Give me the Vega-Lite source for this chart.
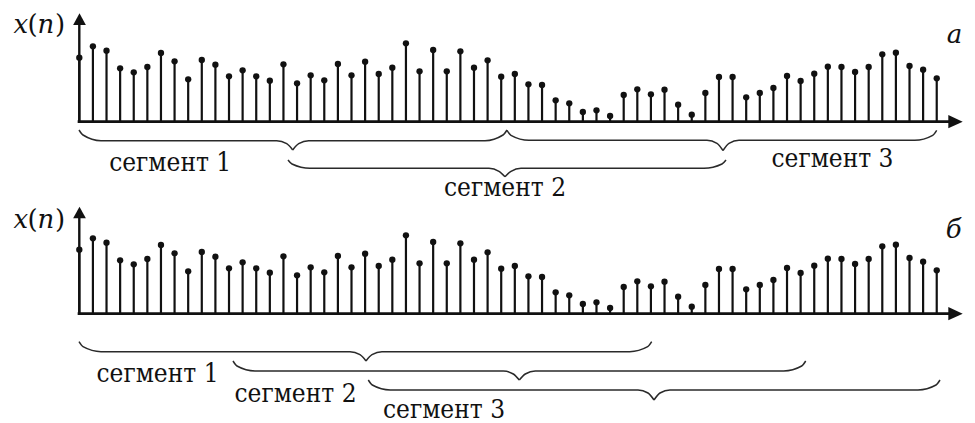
{
  "$schema": "https://vega.github.io/schema/vega-lite/v6.json",
  "padding": 0,
  "spacing": 0,
  "bounds": "flush",
  "background": "white",
  "config": {"view": {"stroke": null}, "font": "DejaVu Serif"},
  "datasets": {
    "signal": [
      {"n":0,"v":64},{"n":1,"v":75.4},{"n":2,"v":71},{"n":3,"v":53.4},{"n":4,"v":49.4},{"n":5,"v":54.7},{"n":6,"v":68.7},{"n":7,"v":60.4},
      {"n":8,"v":42.4},{"n":9,"v":61.7},{"n":10,"v":57},{"n":11,"v":45.4},{"n":12,"v":51.4},{"n":13,"v":45.4},{"n":14,"v":41},{"n":15,"v":57.4},
      {"n":16,"v":38.4},{"n":17,"v":46.4},{"n":18,"v":41.4},{"n":19,"v":57.7},{"n":20,"v":46.4},{"n":21,"v":60},{"n":22,"v":47.7},{"n":23,"v":54},
      {"n":24,"v":78.4},{"n":25,"v":50.4},{"n":26,"v":71.7},{"n":27,"v":50.4},{"n":28,"v":70.4},{"n":29,"v":54},{"n":30,"v":61.4},{"n":31,"v":45},
      {"n":32,"v":47.7},{"n":33,"v":37.4},{"n":34,"v":36.7},{"n":35,"v":21.4},{"n":36,"v":18.4},{"n":37,"v":9.7},{"n":38,"v":11.4},{"n":39,"v":5.7},
      {"n":40,"v":26.7},{"n":41,"v":32.4},{"n":42,"v":27.4},{"n":43,"v":32},{"n":44,"v":17},{"n":45,"v":7},{"n":46,"v":28.7},{"n":47,"v":44.7},
      {"n":48,"v":44.7},{"n":49,"v":24.4},{"n":50,"v":28.7},{"n":51,"v":33.7},{"n":52,"v":45.7},{"n":53,"v":40.7},{"n":54,"v":48},{"n":55,"v":55},
      {"n":56,"v":54.7},{"n":57,"v":49.7},{"n":58,"v":54.7},{"n":59,"v":67.4},{"n":60,"v":69},{"n":61,"v":55.7},{"n":62,"v":52},{"n":63,"v":43.4}
    ],
    "bracesA": [
      {"b":"1L","n":-0.022,"v":-8.3},{"b":"1L","n":0.272,"v":-13.3},{"b":"1L","n":1.594,"v":-19},{"b":"1L","n":14.504,"v":-19},{"b":"1L","n":15.239,"v":-22},{"b":"1L","n":15.68,"v":-28.3},
      {"b":"1R","n":15.68,"v":-28.3},{"b":"1R","n":16.121,"v":-22},{"b":"1R","n":16.855,"v":-19},{"b":"1R","n":29.809,"v":-19},{"b":"1R","n":31.132,"v":-13.3},{"b":"1R","n":31.426,"v":-8.3},
      {"b":"3L","n":31.426,"v":-8.6},{"b":"3L","n":31.719,"v":-13.6},{"b":"3L","n":33.042,"v":-18.6},{"b":"3L","n":46.12,"v":-18.6},{"b":"3L","n":46.855,"v":-21.6},{"b":"3L","n":47.296,"v":-28.8},
      {"b":"3R","n":47.296,"v":-28.8},{"b":"3R","n":47.737,"v":-21.6},{"b":"3R","n":48.472,"v":-18.6},{"b":"3R","n":61.381,"v":-18.6},{"b":"3R","n":62.704,"v":-13.6},{"b":"3R","n":62.998,"v":-8.6},
      {"b":"2L","n":15.334,"v":-38.3},{"b":"2L","n":15.628,"v":-42.3},{"b":"2L","n":16.951,"v":-46.6},{"b":"2L","n":30.103,"v":-46.6},{"b":"2L","n":30.838,"v":-49.6},{"b":"2L","n":31.278,"v":-55},
      {"b":"2R","n":31.278,"v":-55},{"b":"2R","n":31.719,"v":-49.6},{"b":"2R","n":32.454,"v":-46.6},{"b":"2R","n":45.9,"v":-46.6},{"b":"2R","n":47.223,"v":-42.3},{"b":"2R","n":47.517,"v":-38.3}
    ],
    "bracesB": [
      {"b":"1L","n":-0.022,"v":-28},{"b":"1L","n":0.272,"v":-33},{"b":"1L","n":1.594,"v":-38},{"b":"1L","n":19.89,"v":-38},{"b":"1L","n":20.624,"v":-41},{"b":"1L","n":21.065,"v":-47.3},
      {"b":"1R","n":21.065,"v":-47.3},{"b":"1R","n":21.506,"v":-41},{"b":"1R","n":22.241,"v":-38},{"b":"1R","n":40.441,"v":-38},{"b":"1R","n":41.764,"v":-33},{"b":"1R","n":42.057,"v":-28},
      {"b":"2L","n":11.293,"v":-47.3},{"b":"2L","n":11.587,"v":-52.3},{"b":"2L","n":12.91,"v":-57.3},{"b":"2L","n":31.153,"v":-57.3},{"b":"2L","n":31.888,"v":-60.3},{"b":"2L","n":32.329,"v":-66.3},
      {"b":"2R","n":32.329,"v":-66.3},{"b":"2R","n":32.77,"v":-60.3},{"b":"2R","n":33.505,"v":-57.3},{"b":"2R","n":51.756,"v":-57.3},{"b":"2R","n":53.079,"v":-52.3},{"b":"2R","n":53.373,"v":-47.3},
      {"b":"3L","n":21.234,"v":-66.3},{"b":"3L","n":21.528,"v":-71.3},{"b":"3L","n":22.851,"v":-76.3},{"b":"3L","n":41.051,"v":-76.3},{"b":"3L","n":41.786,"v":-79.3},{"b":"3L","n":42.226,"v":-86.3},
      {"b":"3R","n":42.226,"v":-86.3},{"b":"3R","n":42.667,"v":-79.3},{"b":"3R","n":43.402,"v":-76.3},{"b":"3R","n":61.624,"v":-76.3},{"b":"3R","n":62.947,"v":-71.3},{"b":"3R","n":63.24,"v":-66.3}
    ]
  },
  "vconcat": [
    {
      "width": 975,
      "height": 200,
      "encoding": {
        "x": {"field": "n", "type": "quantitative", "scale": {"domain": [-5.8266, 65.812], "nice": false, "zero": false}, "axis": null},
        "y": {"field": "v", "type": "quantitative", "scale": {"domain": [-78.3, 121.7], "nice": false, "zero": false}, "axis": null}
      },
      "layer": [
        {"data": {"name": "signal"}, "mark": {"type": "rule", "strokeWidth": 2.2, "color": "#111111"}, "encoding": {"y2": {"datum": 0}}},
        {"data": {"name": "signal"}, "mark": {"type": "point", "shape": "circle", "filled": true, "size": 40, "opacity": 1, "color": "#111111"}},
        {"data": {"values": [{"n": -0.12, "v": 0, "n2": 64.0}]}, "mark": {"type": "rule", "strokeWidth": 2.7, "color": "#111111"}, "encoding": {"x2": {"field": "n2"}}},
        {"data": {"values": [{"n": 0, "v": 0, "v2": 97}]}, "mark": {"type": "rule", "strokeWidth": 2.4, "color": "#111111"}, "encoding": {"y2": {"field": "v2"}}},
        {"data": {"values": [{"n": 64.38, "v": 0}]}, "mark": {"type": "point", "shape": "M1,0L-1,-0.92L-1,0.92Z", "filled": true, "size": 207, "opacity": 1, "color": "#111111"}},
        {"data": {"values": [{"n": 0.015, "v": 102.55}]}, "mark": {"type": "point", "shape": "M0,-1L1.085,1L-1.085,1Z", "filled": true, "size": 137, "opacity": 1, "color": "#111111"}},
        {"data": {"name": "bracesA"}, "mark": {"type": "line", "interpolate": "monotone", "strokeWidth": 1.5, "color": "#2a2a2a"}, "encoding": {"detail": {"field": "b"}}},
        {"data": {"values": [{"n": 6.679, "v": -49.3, "t": "сегмент 1"}, {"n": 31.28, "v": -74.3, "t": "сегмент 2"}, {"n": 55.34, "v": -45, "t": "сегмент 3"}]},
         "mark": {"type": "text", "font": "DejaVu Serif Condensed", "fontSize": 26, "align": "center", "baseline": "alphabetic", "color": "#111111"}, "encoding": {"text": {"field": "t"}}},
        {"data": {"values": [{"n": -4.298, "v": 88.4, "t": "x"}, {"n": -2.461, "v": 88.4, "t": "n"}, {"n": 64.31, "v": 78.4, "t": "a"}]},
         "mark": {"type": "text", "font": "DejaVu Serif", "fontStyle": "italic", "fontSize": 26, "align": "center", "baseline": "alphabetic", "color": "#111111"}, "encoding": {"text": {"field": "t"}}},
        {"data": {"values": [{"n": -3.439, "v": 88.4, "t": "("}, {"n": -1.418, "v": 88.4, "t": ")"}]},
         "mark": {"type": "text", "font": "DejaVu Serif", "fontSize": 26, "align": "center", "baseline": "alphabetic", "color": "#111111"}, "encoding": {"text": {"field": "t"}}}
      ]
    },
    {
      "width": 975,
      "height": 223,
      "encoding": {
        "x": {"field": "n", "type": "quantitative", "scale": {"domain": [-5.8266, 65.812], "nice": false, "zero": false}, "axis": null},
        "y": {"field": "v", "type": "quantitative", "scale": {"domain": [-109.3, 113.7], "nice": false, "zero": false}, "axis": null}
      },
      "layer": [
        {"data": {"name": "signal"}, "mark": {"type": "rule", "strokeWidth": 2.2, "color": "#111111"}, "encoding": {"y2": {"datum": 0}}},
        {"data": {"name": "signal"}, "mark": {"type": "point", "shape": "circle", "filled": true, "size": 40, "opacity": 1, "color": "#111111"}},
        {"data": {"values": [{"n": -0.12, "v": 0, "n2": 64.0}]}, "mark": {"type": "rule", "strokeWidth": 2.7, "color": "#111111"}, "encoding": {"x2": {"field": "n2"}}},
        {"data": {"values": [{"n": 0, "v": 0, "v2": 96}]}, "mark": {"type": "rule", "strokeWidth": 2.4, "color": "#111111"}, "encoding": {"y2": {"field": "v2"}}},
        {"data": {"values": [{"n": 64.38, "v": 0}]}, "mark": {"type": "point", "shape": "M1,0L-1,-0.92L-1,0.92Z", "filled": true, "size": 207, "opacity": 1, "color": "#111111"}},
        {"data": {"values": [{"n": 0.015, "v": 101.2}]}, "mark": {"type": "point", "shape": "M0,-1L1.085,1L-1.085,1Z", "filled": true, "size": 137, "opacity": 1, "color": "#111111"}},
        {"data": {"name": "bracesB"}, "mark": {"type": "line", "interpolate": "monotone", "strokeWidth": 1.5, "color": "#2a2a2a"}, "encoding": {"detail": {"field": "b"}}},
        {"data": {"values": [{"n": 5.746, "v": -68, "t": "сегмент 1"}, {"n": 15.885, "v": -88, "t": "сегмент 2"}, {"n": 26.797, "v": -104.6, "t": "сегмент 3"}]},
         "mark": {"type": "text", "font": "DejaVu Serif Condensed", "fontSize": 26, "align": "center", "baseline": "alphabetic", "color": "#111111"}, "encoding": {"text": {"field": "t"}}},
        {"data": {"values": [{"n": -4.298, "v": 85.4, "t": "x"}, {"n": -2.461, "v": 85.4, "t": "n"}, {"n": 64.24, "v": 75.4, "t": "б"}]},
         "mark": {"type": "text", "font": "DejaVu Serif", "fontStyle": "italic", "fontSize": 26, "align": "center", "baseline": "alphabetic", "color": "#111111"}, "encoding": {"text": {"field": "t"}}},
        {"data": {"values": [{"n": -3.439, "v": 85.4, "t": "("}, {"n": -1.418, "v": 85.4, "t": ")"}]},
         "mark": {"type": "text", "font": "DejaVu Serif", "fontSize": 26, "align": "center", "baseline": "alphabetic", "color": "#111111"}, "encoding": {"text": {"field": "t"}}}
      ]
    }
  ]
}
